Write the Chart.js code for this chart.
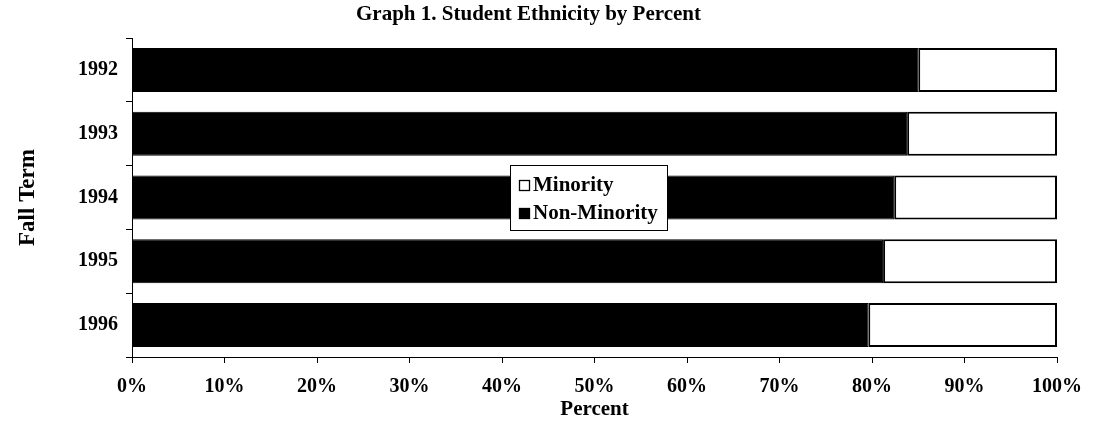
<!DOCTYPE html>
<html>
<head>
<meta charset="utf-8">
<script src="https://cdn.jsdelivr.net/npm/chart.js@4/dist/chart.umd.min.js"></script>
<style>
  html, body { margin: 0; padding: 0; background: #fff; }
  #wrap { width: 1101px; height: 422px; position: relative; }
</style>
</head>
<body>
<div id="wrap"><canvas id="chart"></canvas></div>
<script>
// Fall terms, top to bottom
const terms = ['1992', '1993', '1994', '1995', '1996'];

// Percent of students in each group
const nonMinority = [85.0, 83.8, 82.4, 81.2, 79.6];
const minority = [15.0, 16.2, 17.6, 18.8, 20.4];

const xTicks = [0, 10, 20, 30, 40, 50, 60, 70, 80, 90, 100];

const serif = '"Liberation Serif", "Times New Roman", serif';

// Boxed legend drawn inside the plot, Minority listed first
const boxLegend = {
    id: 'boxLegend',
    afterDraw(chart) {
        const ctx = chart.ctx;
        const area = chart.chartArea;
        const left = area.left + 378;
        const top = area.top + 127;
        const w = 157;
        const h = 65;
        ctx.save();
        ctx.fillStyle = '#fff';
        ctx.fillRect(left, top, w, h);
        ctx.strokeStyle = '#000';
        ctx.lineWidth = 1;
        ctx.strokeRect(left + 0.5, top + 0.5, w, h);

        const items = [chart.data.datasets[1], chart.data.datasets[0]];
        ctx.font = 'bold 21px ' + serif;
        ctx.textBaseline = 'alphabetic';
        items.forEach((ds, i) => {
            const y = top + 26 + i * 28;
            ctx.fillStyle = ds.backgroundColor;
            ctx.fillRect(left + 9, y - 11, 11, 11);
            ctx.strokeStyle = '#000';
            ctx.lineWidth = 1.3;
            ctx.strokeRect(left + 9.5, y - 10.5, 10, 10);
            ctx.fillStyle = '#000';
            ctx.fillText(ds.label, left + 23, y);
        });
        ctx.restore();
    }
};

const ctx = document.getElementById('chart').getContext('2d');

new Chart(ctx, {
    type: 'bar',
    data: {
        labels: terms,
        datasets: [{
            label: 'Non-Minority',
            data: nonMinority,
            backgroundColor: '#000',
            borderColor: '#000',
            borderWidth: 1,
            barPercentage: 0.69,
            categoryPercentage: 1.0
        }, {
            label: 'Minority',
            data: minority,
            backgroundColor: '#fff',
            borderColor: '#000',
            borderWidth: 2,
            borderSkipped: false,
            barPercentage: 0.69,
            categoryPercentage: 1.0
        }]
    },
    options: {
        indexAxis: 'y',
        responsive: true,
        maintainAspectRatio: false,
        animation: false,
        layout: {
            padding: { top: 0, right: 44, bottom: 0, left: 0 }
        },
        plugins: {
            legend: { display: false },
            tooltip: { enabled: false },
            title: {
                display: true,
                text: 'Graph 1. Student Ethnicity by Percent',
                color: '#000',
                font: { family: serif, size: 21, weight: 'bold', lineHeight: 1.2 },
                padding: { top: 2, bottom: 10.8 }
            }
        },
        scales: {
            x: {
                stacked: true,
                min: 0,
                max: 100,
                afterBuildTicks: function (scale) {
                    scale.ticks = xTicks.map(v => ({ value: v }));
                },
                afterFit: function (scale) {
                    scale.height = 65;
                },
                ticks: {
                    color: '#000',
                    padding: 12,
                    font: { family: serif, size: 20, weight: 'bold' },
                    callback: function (value) {
                        return value + '%';
                    }
                },
                grid: {
                    drawOnChartArea: false,
                    color: '#000',
                    tickLength: 6
                },
                border: { display: true, color: '#000', width: 1 },
                title: {
                    display: true,
                    text: 'Percent',
                    color: '#000',
                    font: { family: serif, size: 21, weight: 'bold', lineHeight: 1.2 },
                    padding: { top: 0, bottom: 0 }
                }
            },
            y: {
                stacked: true,
                afterFit: function (scale) {
                    scale.width = 132;
                },
                ticks: {
                    color: '#000',
                    padding: 8,
                    font: { family: serif, size: 20, weight: 'bold' }
                },
                grid: {
                    offset: true,
                    drawOnChartArea: false,
                    color: '#000',
                    tickLength: 6
                },
                border: { display: true, color: '#000', width: 1 },
                title: {
                    display: true,
                    text: 'Fall Term',
                    color: '#000',
                    font: { family: serif, size: 23, weight: 'bold', lineHeight: 1.2 },
                    padding: { top: 14, bottom: 0 }
                }
            }
        }
    },
    plugins: [boxLegend]
});
</script>
</body>
</html>
